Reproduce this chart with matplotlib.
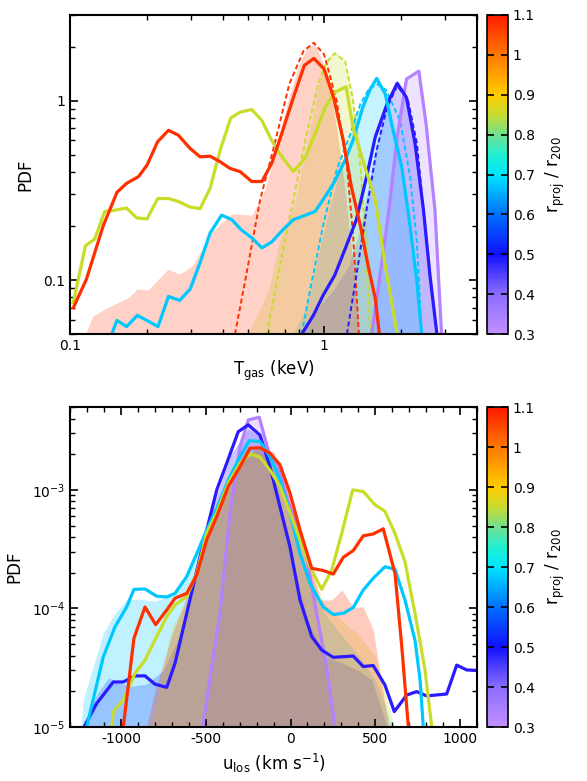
import numpy as np
import matplotlib
matplotlib.use('Agg')
import matplotlib.pyplot as plt
from matplotlib.colors import LinearSegmentedColormap, Normalize
from matplotlib.ticker import FixedLocator, FixedFormatter, LogLocator

plt.rcParams['font.family'] = ['DejaVu Sans']
plt.rcParams['mathtext.default'] = 'regular'
plt.rcParams['axes.unicode_minus'] = False

# line / fill colours for the five radial bins
c_red = '#ff3000'
c_yel = '#c8dc28'
c_cya = '#00c8ff'
c_blu = '#2a1aff'
c_pur = '#b482ff'

# ---------------- top panel: temperature PDF ----------------
# solid lines
t_red = [0.103, 0.116, 0.135, 0.153, 0.167, 0.186, 0.201, 0.221, 0.244, 0.267, 0.297, 0.325, 0.356, 0.39,
         0.426, 0.467, 0.519, 0.569, 0.622, 0.681, 0.757, 0.836, 0.911, 1.0, 1.09, 1.19, 1.28, 1.39, 1.49, 1.59, 1.65]
p_red = [0.07, 0.101, 0.2, 0.308, 0.346, 0.377, 0.437, 0.589, 0.683, 0.641, 0.541, 0.486, 0.49, 0.456,
         0.419, 0.402, 0.354, 0.354, 0.447, 0.655, 1.04, 1.57, 1.72, 1.5, 1.04, 0.6, 0.332, 0.2, 0.12, 0.079, 0.05]

t_yel = [0.103, 0.115, 0.125, 0.137, 0.15, 0.167, 0.183, 0.201, 0.221, 0.244, 0.267, 0.297, 0.325, 0.356, 0.39,
         0.429, 0.467, 0.519, 0.569, 0.622, 0.69, 0.757, 0.84, 0.922, 1.01, 1.1, 1.22, 1.3, 1.42, 1.59, 1.74, 1.94]
p_yel = [0.075, 0.155, 0.169, 0.241, 0.245, 0.252, 0.222, 0.219, 0.284, 0.285, 0.274, 0.255, 0.25, 0.325, 0.53,
         0.8, 0.862, 0.892, 0.775, 0.6, 0.476, 0.402, 0.476, 0.655, 0.918, 1.11, 1.195, 0.712, 0.466, 0.28, 0.12, 0.05]

t_cya = [0.146, 0.153, 0.167, 0.184, 0.201, 0.222, 0.244, 0.27, 0.297, 0.325, 0.356, 0.395, 0.433, 0.473, 0.519,
         0.569, 0.622, 0.687, 0.757, 0.84, 0.922, 1.01, 1.1, 1.21, 1.3, 1.42, 1.52, 1.61, 1.74, 1.88, 2.02, 2.18,
         2.32, 2.42]
p_cya = [0.05, 0.0595, 0.055, 0.0635, 0.0595, 0.055, 0.081, 0.077, 0.089, 0.125, 0.183, 0.23, 0.217, 0.19, 0.172,
         0.151, 0.163, 0.19, 0.217, 0.229, 0.241, 0.292, 0.354, 0.466, 0.6, 0.918, 1.16, 1.33, 1.09, 0.655, 0.43, 0.2,
         0.097, 0.05]

t_blu = [0.817, 0.907, 0.99, 1.1, 1.21, 1.34, 1.47, 1.59, 1.77, 1.94, 2.11, 2.28, 2.46, 2.61, 2.78]
p_blu = [0.05, 0.0635, 0.082, 0.106, 0.149, 0.217, 0.377, 0.627, 0.958, 1.25, 1.04, 0.577, 0.247, 0.106, 0.05]

t_pur = [1.54, 1.66, 1.8, 1.94, 2.11, 2.36, 2.52, 2.73, 2.9]
p_pur = [0.05, 0.106, 0.247, 0.627, 1.32, 1.46, 0.743, 0.247, 0.05]

# dashed lines
td_red = [0.446, 0.496, 0.56, 0.63, 0.73, 0.83, 0.91, 1.0, 1.12, 1.23, 1.3, 1.37]
pd_red = [0.05, 0.11, 0.28, 0.53, 1.24, 1.89, 2.1, 1.81, 1.0, 0.43, 0.18, 0.05]

td_yel = [0.595, 0.67, 0.757, 0.855, 0.948, 1.02, 1.1, 1.21, 1.3, 1.39, 1.45, 1.52]
pd_yel = [0.05, 0.12, 0.28, 0.655, 1.24, 1.63, 1.83, 1.66, 1.0, 0.43, 0.18, 0.05]

td_cya = [0.817, 0.866, 0.99, 1.12, 1.27, 1.39, 1.49, 1.61, 1.75, 1.99, 2.18, 2.32, 2.42]
pd_cya = [0.05, 0.078, 0.2, 0.41, 0.655, 0.96, 1.14, 1.24, 1.15, 0.775, 0.38, 0.16, 0.051]

td_blu = [1.23, 1.34, 1.47, 1.61, 1.77, 1.94, 2.14, 2.32, 2.46, 2.61, 2.78]
pd_blu = [0.05, 0.106, 0.247, 0.53, 0.918, 1.21, 1.0, 0.577, 0.247, 0.106, 0.05]

# shaded distributions
tf_red = [0.115, 0.123, 0.14, 0.17, 0.184, 0.203, 0.243, 0.27, 0.303, 0.36, 0.396, 0.434, 0.52, 0.585,
          0.65, 0.72, 0.8, 0.86, 0.92, 0.98, 1.05, 1.12, 1.2, 1.28, 1.38]
pf_red = [0.05, 0.063, 0.07, 0.08, 0.089, 0.088, 0.115, 0.108, 0.12, 0.184, 0.209, 0.234, 0.23, 0.318,
          0.55, 1.0, 1.6, 2.0, 2.05, 1.7, 1.2, 0.7, 0.35, 0.15, 0.05]

tf_yel = [0.5, 0.6, 0.67, 0.76, 0.85, 0.95, 1.02, 1.1, 1.2, 1.3, 1.4, 1.5, 1.6]
pf_yel = [0.05, 0.085, 0.17, 0.26, 0.55, 1.2, 1.7, 1.9, 1.7, 1.1, 0.5, 0.15, 0.05]

tf_cya = [0.75, 0.85, 0.95, 1.05, 1.15, 1.27, 1.39, 1.5, 1.6, 1.75, 1.9, 2.05, 2.2, 2.35, 2.45]
pf_cya = [0.05, 0.07, 0.14, 0.25, 0.4, 0.66, 0.98, 1.2, 1.3, 1.1, 0.7, 0.4, 0.18, 0.08, 0.05]

tf_blu = [0.8, 0.95, 1.1, 1.25, 1.4, 1.55, 1.7, 1.85, 1.95, 2.1, 2.3, 2.5, 2.65, 2.8]
pf_blu = [0.05, 0.07, 0.09, 0.12, 0.2, 0.45, 0.8, 1.1, 1.22, 1.05, 0.58, 0.22, 0.1, 0.05]

tf_pur = [1.5, 1.66, 1.8, 1.94, 2.1, 2.35, 2.5, 2.7, 2.9]
pf_pur = [0.05, 0.106, 0.25, 0.63, 1.32, 1.46, 0.75, 0.25, 0.05]

# ---------------- bottom panel: line-of-sight velocity PDF ----------------
u_red = [-986, -923, -858, -795, -730, -681, -612, -553, -494, -435, -367, -298, -239, -180, -121, -62, -3,
         56, 125, 193, 252, 311, 370, 429, 488, 547, 616, 656, 695]
v_red = [1e-5, 5.6e-5, 1.03e-4, 7.3e-5, 9.7e-5, 1.22e-4, 1.34e-4, 1.92e-4, 3.8e-4, 5.95e-4, 1.07e-3, 1.57e-3,
         2.25e-3, 2.27e-3, 2.04e-3, 1.63e-3, 9.4e-4, 4.6e-4, 2.18e-4, 2.09e-4, 1.95e-4, 2.7e-4, 3.08e-4, 4.1e-4,
         4.25e-4, 4.7e-4, 1.98e-4, 4.8e-5, 1e-5]

u_yel = [-1054, -1045, -986, -917, -858, -789, -730, -681, -612, -553, -494, -435, -367, -298, -239, -180, -121,
         -62, -3, 56, 115, 184, 243, 302, 367, 429, 498, 557, 616, 675, 734, 793, 833]
v_yel = [1e-5, 1.34e-5, 1.69e-5, 2.84e-5, 3.67e-5, 5.8e-5, 8.5e-5, 1.07e-4, 1.26e-4, 1.98e-4, 4.3e-4, 6.4e-4,
         1.14e-3, 1.68e-3, 2.01e-3, 1.89e-3, 1.47e-3, 1.07e-3, 6.4e-4, 3.8e-4, 2.25e-4, 1.45e-4, 2.11e-4, 4.3e-4,
         1e-3, 9.7e-4, 7.5e-4, 6.6e-4, 4.3e-4, 2.48e-4, 9.1e-5, 3.03e-5, 1e-5]

u_cya = [-1202, -1104, -1035, -966, -923, -858, -789, -730, -681, -612, -553, -494, -435, -367, -298, -243, -180,
         -121, -62, -3, 56, 115, 193, 252, 311, 370, 429, 488, 557, 616, 675, 734, 764, 783]
v_cya = [1e-5, 3.9e-5, 7e-5, 1.03e-4, 1.45e-4, 1.46e-4, 1.27e-4, 1.25e-4, 1.34e-4, 1.86e-4, 2.9e-4, 4.6e-4,
         7e-4, 1.21e-3, 1.9e-3, 2.6e-3, 2.56e-3, 1.9e-3, 1.21e-3, 6.4e-4, 2.9e-4, 1.63e-4, 1.03e-4, 8.9e-5, 9.1e-5,
         1.02e-4, 1.43e-4, 1.8e-4, 2.25e-4, 2.14e-4, 1.18e-4, 5.4e-5, 2.5e-5, 1e-5]

u_blu = [-1218, -1143, -1045, -986, -917, -858, -799, -730, -681, -612, -534, -435, -376, -308, -249, -180, -121,
         -62, -3, 56, 125, 184, 252, 370, 429, 488, 557, 612, 685, 744, 803, 921, 980, 1039, 1101]
v_blu = [1e-5, 1.58e-5, 2.4e-5, 2.4e-5, 2.7e-5, 2.7e-5, 2.3e-5, 2.16e-5, 3.45e-5, 9.1e-5, 2.7e-4, 1e-3, 1.68e-3,
         3.1e-3, 3.54e-3, 2.9e-3, 1.57e-3, 7.2e-4, 3.3e-4, 1.18e-4, 5.8e-5, 4.46e-5, 3.87e-5, 3.97e-5, 3.24e-5,
         3.3e-5, 2.26e-5, 1.35e-5, 1.86e-5, 1.99e-5, 1.83e-5, 1.9e-5, 3.33e-5, 3.03e-5, 3e-5]

u_pur = [-518, -485, -416, -357, -298, -249, -184, -121, -81, -3, 96, 154, 213, 262]
v_pur = [1e-5, 2.05e-5, 9.1e-5, 6.4e-4, 2.3e-3, 3.9e-3, 4.1e-3, 1.9e-3, 1.68e-3, 7.2e-4, 2.7e-4, 9.1e-5,
         3.2e-5, 1e-5]

uf_red = [-850, -800, -700, -600, -500, -400, -300, -200, -100, 0, 100, 174, 243, 302, 370, 429, 488, 528, 577]
vf_red = [1e-5, 2e-5, 6e-5, 1.4e-4, 3.5e-4, 8e-4, 1.6e-3, 2.3e-3, 2.1e-3, 9e-4, 3e-4, 1.18e-4, 1.18e-4,
          1.43e-4, 1.03e-4, 1.03e-4, 6.6e-5, 2.84e-5, 1.04e-5]

uf_yel = [-820, -700, -600, -500, -400, -300, -220, -100, 0, 100, 200, 300, 400, 500, 560, 610]
vf_yel = [1e-5, 7e-5, 1.2e-4, 3.5e-4, 8e-4, 1.7e-3, 2.2e-3, 1.6e-3, 7e-4, 2.4e-4, 1.1e-4, 8e-5, 6e-5, 4e-5,
          2e-5, 1e-5]

uf_cya = [-1235, -1222, -1104, -1035, -966, -900, -800, -700, -600, -500, -400, -300, -220, -100, 0, 100, 200,
          300, 400, 500, 560, 600]
vf_cya = [1e-5, 1.7e-5, 6.2e-5, 9.1e-5, 1.18e-4, 1.2e-4, 1.15e-4, 1.3e-4, 2e-4, 4.5e-4, 9e-4, 1.8e-3, 2.4e-3,
          1.7e-3, 6e-4, 2e-4, 9e-5, 6e-5, 4e-5, 2.5e-5, 1.5e-5, 1e-5]

uf_blu = [-1220, -1150, -1074, -950, -850, -750, -650, -550, -450, -350, -250, -180, -100, 0, 100, 200, 300,
          400, 480, 530, 570]
vf_blu = [1e-5, 1.8e-5, 2.6e-5, 2.2e-5, 2.3e-5, 3e-5, 6e-5, 2e-4, 8e-4, 2e-3, 3.3e-3, 2.8e-3, 1.4e-3, 3e-4,
          8e-5, 4e-5, 3.5e-5, 3e-5, 2.5e-5, 1.5e-5, 1e-5]

uf_pur = u_pur
vf_pur = v_pur

# colour scale
cb_ticks = [0.3, 0.4, 0.5, 0.6, 0.7, 0.8, 0.9, 1.0, 1.1]
cb_labels = ['0.3', '0.4', '0.5', '0.6', '0.7', '0.8', '0.9', '1', '1.1']

cmap = LinearSegmentedColormap.from_list('rproj', [
    (0.0, '#c290ff'), (0.125, '#8a6cff'), (0.25, '#1010ff'), (0.375, '#0070ff'),
    (0.5, '#00e6ff'), (0.5625, '#20f0d0'), (0.625, '#70e090'), (0.6875, '#c8dc30'),
    (0.75, '#ffcc00'), (0.875, '#ff7a00'), (1.0, '#ff1a00')])

alpha_fill = 0.22


def style_axes(ax):
    ax.tick_params(which='both', direction='in', top=True, right=True, labelsize=10)
    ax.tick_params(which='major', length=6, width=1.2)
    ax.tick_params(which='minor', length=3.5, width=1.0)
    for s in ax.spines.values():
        s.set_linewidth(1.5)


def add_cbar(fig, rect):
    cax = fig.add_axes(rect)
    sm = plt.cm.ScalarMappable(norm=Normalize(0.3, 1.1), cmap=cmap)
    cb = fig.colorbar(sm, cax=cax)
    cb.set_ticks(cb_ticks)
    cb.set_ticklabels(cb_labels)
    cax.tick_params(direction='in', left=True, right=True, length=5, width=1.2, labelsize=10)
    cb.outline.set_linewidth(1.2)
    cb.set_label(r'r$_{proj}$ / r$_{200}$', fontsize=12, labelpad=6)


fig = plt.figure(figsize=(5.87, 7.81), dpi=100)

# top
ax1 = fig.add_axes([0.1193, 0.5723, 0.6934, 0.4085])
for t, p, c in [(tf_pur, pf_pur, c_pur), (tf_blu, pf_blu, c_blu), (tf_cya, pf_cya, c_cya),
                (tf_yel, pf_yel, c_yel), (tf_red, pf_red, c_red)]:
    ax1.fill_between(t, p, 1e-3, color=c, alpha=alpha_fill, lw=0)
for t, p, c in [(td_red, pd_red, c_red), (td_yel, pd_yel, c_yel), (td_cya, pd_cya, c_cya),
                (td_blu, pd_blu, c_blu)]:
    ax1.plot(t, p, color=c, lw=1.4, ls=(0, (2.5, 1.5)))
for t, p, c in [(t_pur, p_pur, c_pur), (t_blu, p_blu, c_blu), (t_cya, p_cya, c_cya),
                (t_yel, p_yel, c_yel), (t_red, p_red, c_red)]:
    ax1.plot(t, p, color=c, lw=2.3)
ax1.set_xscale('log')
ax1.set_yscale('log')
ax1.set_xlim(0.1, 4)
ax1.set_ylim(0.05, 3)
ax1.xaxis.set_major_locator(FixedLocator([0.1, 1]))
ax1.xaxis.set_major_formatter(FixedFormatter(['0.1', '1']))
ax1.yaxis.set_major_locator(FixedLocator([0.1, 1]))
ax1.yaxis.set_major_formatter(FixedFormatter(['0.1', '1']))
ax1.xaxis.set_minor_locator(LogLocator(base=10, subs=np.arange(2, 10)))
ax1.yaxis.set_minor_locator(LogLocator(base=10, subs=np.arange(2, 10)))
ax1.xaxis.set_minor_formatter(plt.NullFormatter())
ax1.yaxis.set_minor_formatter(plt.NullFormatter())
ax1.set_xlabel(r'T$_{gas}$ (keV)', fontsize=12, labelpad=4)
ax1.set_ylabel('PDF', fontsize=12, labelpad=6)
style_axes(ax1)
add_cbar(fig, [0.8296, 0.5723, 0.0358, 0.4085])

# bottom
ax2 = fig.add_axes([0.1193, 0.0691, 0.6934, 0.4097])
for u, v, c in [(uf_pur, vf_pur, c_pur), (uf_blu, vf_blu, c_blu), (uf_cya, vf_cya, c_cya),
                (uf_yel, vf_yel, c_yel), (uf_red, vf_red, c_red)]:
    ax2.fill_between(u, v, 1e-7, color=c, alpha=alpha_fill + 0.03, lw=0)
for u, v, c in [(u_pur, v_pur, c_pur), (u_blu, v_blu, c_blu), (u_cya, v_cya, c_cya),
                (u_yel, v_yel, c_yel), (u_red, v_red, c_red)]:
    ax2.plot(u, v, color=c, lw=2.3)
ax2.set_yscale('log')
ax2.set_xlim(-1300, 1100)
ax2.set_ylim(1e-5, 5e-3)
ax2.set_xticks([-1000, -500, 0, 500, 1000])
ax2.set_xticks(np.arange(-1300, 1101, 100), minor=True)
ax2.yaxis.set_minor_locator(LogLocator(base=10, subs=np.arange(2, 10)))
ax2.yaxis.set_minor_formatter(plt.NullFormatter())
ax2.set_xlabel(r'u$_{los}$ (km s$^{-1}$)', fontsize=12, labelpad=4)
ax2.set_ylabel('PDF', fontsize=12, labelpad=6)
style_axes(ax2)
add_cbar(fig, [0.8296, 0.0691, 0.0358, 0.4097])

fig.savefig('out.png', dpi=100)
